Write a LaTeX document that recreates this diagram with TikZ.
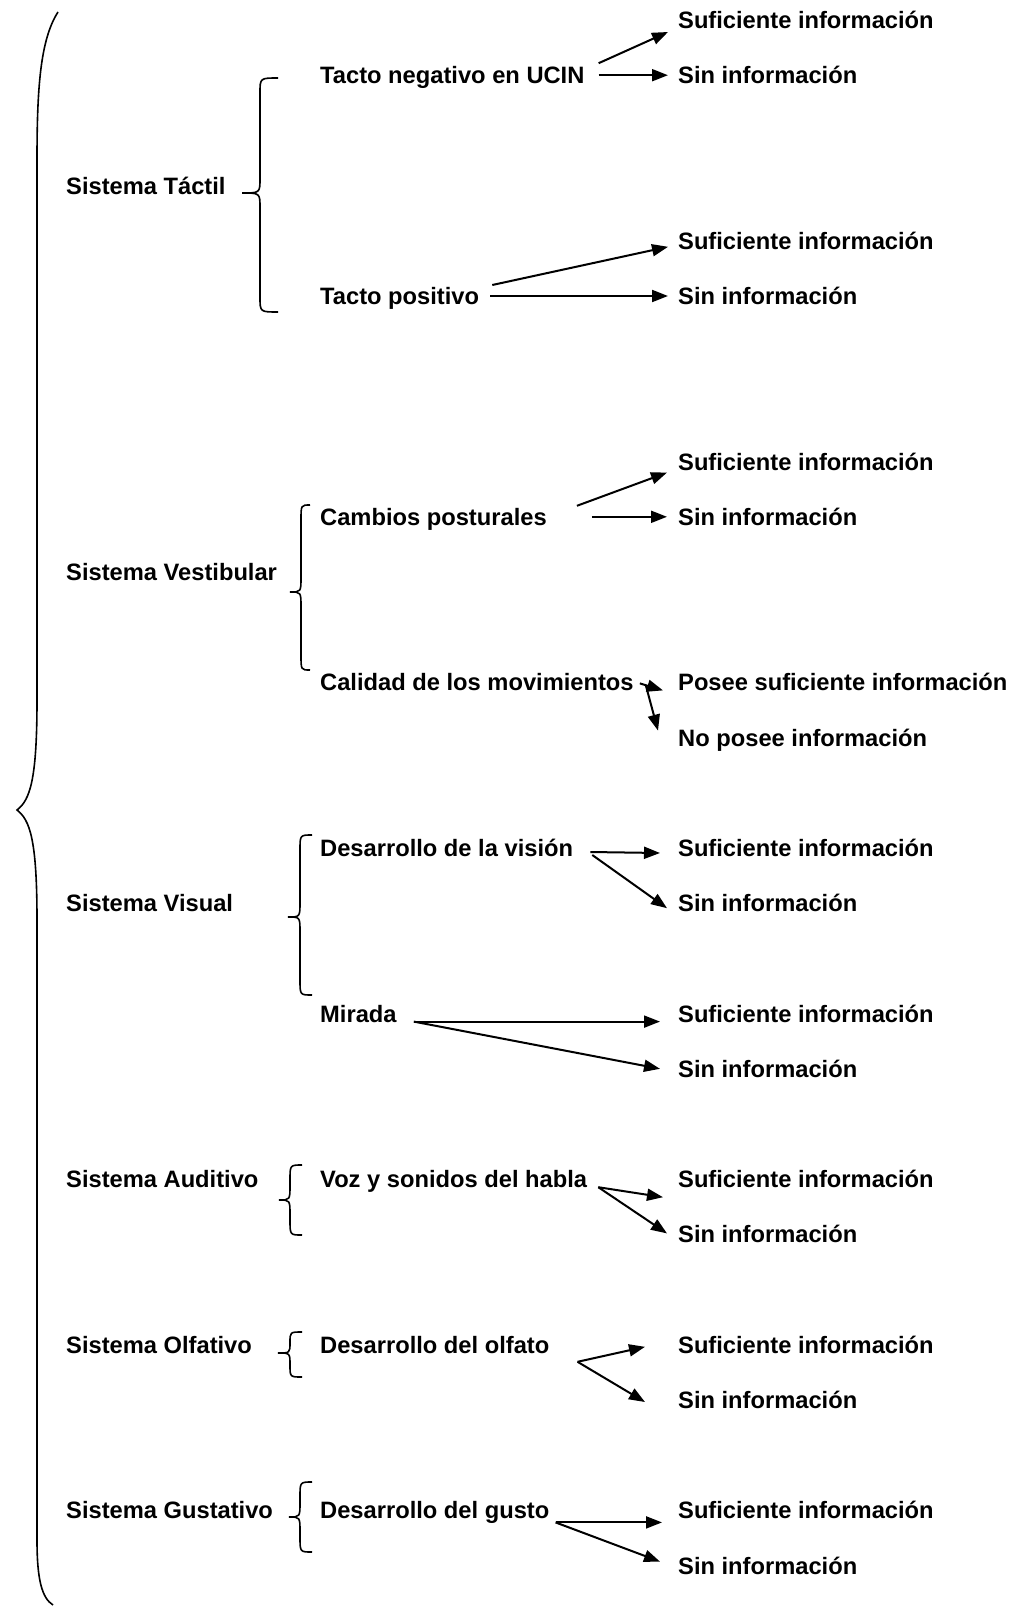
\documentclass[tikz,border=0pt]{standalone}
\usepackage{fontspec}
\setmainfont{Liberation Sans}
\usetikzlibrary{arrows.meta,calc}

\tikzset{
  texto/.style={anchor=west, inner sep=0pt, text height=16.9pt, text depth=0pt,
    font=\bfseries\fontsize{23.7}{28}\selectfont},
  flecha/.style={line width=2pt, -{Triangle[length=16pt,width=12pt]}},
  llavel/.style={line width=1.6pt}
}

% small brace: top x, top y, spine x, tip x, tip y, bottom y
\newcommand{\llave}[6]{%
  \draw[llavel] (#1,#2) .. controls (#3,#2) .. (#3,{#2+min(15,(#5-#2)/2)})
    -- (#3,{#5-min(15,(#5-#2)/2)}) .. controls (#3,#5) .. (#4,#5)
    .. controls (#3,#5) .. (#3,{#5+min(15,(#6-#5)/2)})
    -- (#3,{#6-min(15,(#6-#5)/2)}) .. controls (#3,#6) .. (#1,#6);}

\begin{document}
\begin{tikzpicture}[x=1pt,y=-1pt]
    \useasboundingbox (0,0) rectangle (1021,1608);

    % systems
    \node[texto] (tactil) at (66,185.6) {Sistema Táctil};
    \node[texto] (vestib) at (66,572) {Sistema Vestibular};
    \node[texto] (visual) at (66,903.2) {Sistema Visual};
    \node[texto] (auditivo) at (66,1179.2) {Sistema Auditivo};
    \node[texto] (olfativo) at (66,1344.8) {Sistema Olfativo};
    \node[texto] (gustativo) at (66,1510.4) {Sistema Gustativo};

    % aspects
    \node[texto] (tneg) at (320,75.2) {Tacto negativo en UCIN};
    \node[texto] (tpos) at (320,296) {Tacto positivo};
    \node[texto] (postura) at (320,516.8) {Cambios posturales};
    \node[texto] (calidad) at (320,682.4) {Calidad de los movimientos};
    \node[texto] (vision) at (320,848) {Desarrollo de la visión};
    \node[texto] (mirada) at (320,1013.6) {Mirada};
    \node[texto] (voz) at (320,1179.2) {Voz y sonidos del habla};
    \node[texto] (olfato) at (320,1344.8) {Desarrollo del olfato};
    \node[texto] (gusto) at (320,1510.4) {Desarrollo del gusto};

    % answers
    \node[texto] (suf1) at (678,20) {Suficiente información};
    \node[texto] (sin1) at (678,75.2) {Sin información};
    \node[texto] (suf2) at (678,240.8) {Suficiente información};
    \node[texto] (sin2) at (678,296) {Sin información};
    \node[texto] (suf3) at (678,461.6) {Suficiente información};
    \node[texto] (sin3) at (678,516.8) {Sin información};
    \node[texto] (posee) at (678,682.4) {Posee suficiente información};
    \node[texto] (noposee) at (678,737.6) {No posee información};
    \node[texto] (suf4) at (678,848) {Suficiente información};
    \node[texto] (sin4) at (678,903.2) {Sin información};
    \node[texto] (suf5) at (678,1013.6) {Suficiente información};
    \node[texto] (sin5) at (678,1068.8) {Sin información};
    \node[texto] (suf6) at (678,1179.2) {Suficiente información};
    \node[texto] (sin6) at (678,1234.4) {Sin información};
    \node[texto] (suf7) at (678,1344.8) {Suficiente información};
    \node[texto] (sin7) at (678,1400) {Sin información};
    \node[texto] (suf8) at (678,1510.4) {Suficiente información};
    \node[texto] (sin8) at (678,1565.6) {Sin información};

    % big brace
    \draw[llavel] (58,12) .. controls (40,40) and (37,90) .. (37,160) -- (37,700)
      .. controls (37,780) and (30,800) .. (17,810)
      .. controls (30,820) and (37,840) .. (37,920) -- (37,1540)
      .. controls (37,1580) and (42,1598) .. (53,1605);

    % small braces
    \llave{278}{78}{260}{242}{193}{312}
    \llave{310}{505}{301}{290}{592}{670}
    \llave{312}{835}{300}{288}{917}{995}
    \llave{302}{1165}{290}{279}{1200}{1235}
    \llave{302}{1332}{290}{278}{1353}{1377}
    \llave{312}{1482}{300}{289}{1517}{1552}

    \foreach \a/\ax/\ay/\b/\bx/\by in {tneg/14/-12/suf1/-10/12, tneg/14/0/sin1/-10/0,
        tpos/13/-11/suf2/-10/6, tpos/11/0/sin2/-10/0,
        postura/30/-11/suf3/-11/11, postura/45/0/sin3/-11/0,
        calidad/6/1/posee/-15/8, calidad/12/3/noposee/-20/-7,
        vision/17/4/suf4/-18/5, vision/19/7/sin4/-11/5,
        mirada/17/8/suf5/-18/8, mirada/17/8/sin5/-18/0,
        voz/11/8/suf6/-15/18, voz/11/8/sin6/-11/-1,
        olfato/28/17/suf7/-33/2, olfato/28/17/sin7/-33/2,
        gusto/6/12/suf8/-16/12, gusto/6/12/sin8/-18/-4}
      \draw[flecha] ($(\a.east)+(\ax,\ay)$) -- ($(\b.west)+(\bx,\by)$);
\end{tikzpicture}
\end{document}
